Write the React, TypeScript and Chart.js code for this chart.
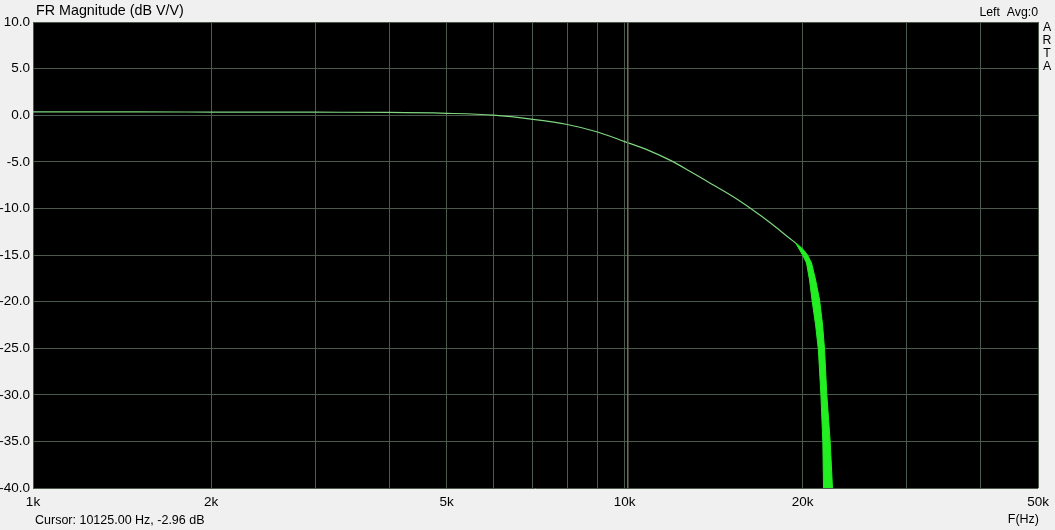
import React, { useEffect, useRef } from 'react';
import { Chart, registerables } from 'chart.js';

Chart.register(...registerables);

// ---- data ----
const FREQ_HZ = [1000, 1500, 2000, 3000, 4000, 5000, 6000, 7000, 8000, 9000, 10000, 11000, 12000, 13000, 14000, 15000, 16000, 17000, 18000, 19000, 19455];
const MAG_DB = [0.35, 0.35, 0.34, 0.32, 0.3, 0.2, 0.0, -0.45, -1.0, -1.8, -2.83, -3.8, -4.9, -6.15, -7.35, -8.45, -9.6, -10.8, -12.0, -13.2, -13.71];

// envelope of the rapidly varying part above ~19.5 kHz (drawn as a filled band)
const BAND_UPPER_HZ = [19455, 19760, 20070, 20380, 20700, 21030, 21360, 21610, 21780, 21970, 22260, 22460, 22550];
const BAND_UPPER_DB = [-13.71, -14.03, -14.46, -15.0, -15.86, -17.68, -19.83, -22.51, -25.19, -30.02, -35.03, -40.0, -41.3];
const BAND_LOWER_HZ = [19455, 19680, 19990, 20300, 20540, 20740, 21030, 21260, 21470, 21630, 21690, 21720];
const BAND_LOWER_DB = [-13.71, -14.25, -15.0, -15.86, -17.68, -19.83, -22.51, -25.19, -30.02, -35.03, -40.0, -41.3];

const CURSOR_HZ = 10125;
const CURSOR_DB = -2.96;

const X_GRID_HZ = [1000, 2000, 3000, 4000, 5000, 6000, 7000, 8000, 9000, 10000, 20000, 30000, 40000, 50000];
const X_LABEL_HZ = [1000, 2000, 5000, 10000, 20000, 50000];
const X_LABEL_TEXT = ['1k', '2k', '5k', '10k', '20k', '50k'];

const Y_MIN = -40;
const Y_MAX = 10;
const Y_STEP = 5;

const TITLE = 'FR Magnitude (dB V/V)';
const CHANNEL = 'Left  Avg:0';
const BRAND = ['A', 'R', 'T', 'A'];
const X_UNIT = 'F(Hz)';

const W = 1055;
const H = 530;
const FONT = '"Liberation Sans", Arial, sans-serif';

export default function App() {
  const ref = useRef<HTMLCanvasElement>(null);

  useEffect(() => {
    document.body.style.margin = '0';
    const canvas = ref.current;
    if (!canvas) return;

    const bgPlugin = {
      id: 'bgPlugin',
      beforeDraw(chart: any) {
        const c = chart.ctx;
        const a = chart.chartArea;
        c.save();
        c.fillStyle = '#f0f0f0';
        c.fillRect(0, 0, chart.width, chart.height);
        c.fillStyle = '#000000';
        c.fillRect(a.left, a.top, a.right - a.left, a.bottom - a.top);
        c.restore();
      },
    };

    const textPlugin = {
      id: 'textPlugin',
      afterDraw(chart: any) {
        const c = chart.ctx;
        c.save();
        c.fillStyle = '#000';
        c.font = `14.3px ${FONT}`;
        c.textAlign = 'left';
        c.textBaseline = 'alphabetic';
        c.fillText(TITLE, 36, 15);

        c.font = `12.3px ${FONT}`;
        c.textAlign = 'right';
        c.fillText(CHANNEL, 1038, 16);

        c.textAlign = 'center';
        c.textBaseline = 'middle';
        BRAND.forEach((ch, i) => c.fillText(ch, 1047, 28 + i * 13));

        c.textAlign = 'left';
        c.font = `12.5px ${FONT}`;
        c.fillText(`Cursor: ${CURSOR_HZ.toFixed(2)} Hz, ${CURSOR_DB.toFixed(2)} dB`, 35, 521);

        c.textAlign = 'right';
        c.fillText(X_UNIT, 1039, 520);
        c.restore();
      },
    };

    const mainData = FREQ_HZ.map((f, i) => ({ x: f, y: MAG_DB[i] }));
    const bandData = [
      ...BAND_UPPER_HZ.map((f, i) => ({ x: f, y: BAND_UPPER_DB[i] })),
      ...BAND_LOWER_HZ.map((f, i) => ({ x: f, y: BAND_LOWER_DB[i] })).reverse(),
    ];
    const cursorData = [
      { x: CURSOR_HZ, y: Y_MAX },
      { x: CURSOR_HZ, y: Y_MIN },
    ];

    const gridColor = '#4b5a4d';

    const chart = new Chart(canvas, {
      type: 'line',
      data: {
        datasets: [
          {
            data: cursorData,
            borderColor: '#6f6f55',
            borderWidth: 1.5,
            pointRadius: 0,
            fill: false,
          },
          {
            data: bandData,
            borderColor: '#22ee22',
            backgroundColor: '#22ee22',
            borderWidth: 1,
            pointRadius: 0,
            fill: 'shape',
            tension: 0,
          },
          {
            data: mainData,
            borderColor: '#7fd67f',
            borderWidth: 1.2,
            pointRadius: 0,
            fill: false,
            cubicInterpolationMode: 'monotone',
          },
        ],
      },
      options: {
        responsive: false,
        animation: false,
        devicePixelRatio: 1,
        layout: { padding: { top: 22, right: 15, left: 0, bottom: 0 } },
        plugins: {
          legend: { display: false },
          tooltip: { enabled: false },
        },
        scales: {
          x: {
            type: 'logarithmic',
            min: X_GRID_HZ[0],
            max: X_GRID_HZ[X_GRID_HZ.length - 1],
            afterBuildTicks: (s: any) => {
              s.ticks = X_GRID_HZ.map((v) => ({ value: v }));
            },
            afterFit: (s: any) => {
              s.height = 42;
            },
            ticks: {
              autoSkip: false,
              maxRotation: 0,
              padding: 6,
              color: '#000',
              font: { family: FONT, size: 13.5 },
              callback: (v: any) => {
                const i = X_LABEL_HZ.indexOf(Number(v));
                return i >= 0 ? X_LABEL_TEXT[i] : '';
              },
            },
            grid: { color: gridColor, drawTicks: false, lineWidth: 1 },
            border: { display: false },
          },
          y: {
            min: Y_MIN,
            max: Y_MAX,
            afterFit: (s: any) => {
              s.width = 33;
            },
            ticks: {
              stepSize: Y_STEP,
              padding: 3,
              color: '#000',
              font: { family: FONT, size: 13.5 },
              callback: (v: any) => Number(v).toFixed(1),
            },
            grid: { color: gridColor, drawTicks: false, lineWidth: 1 },
            border: { display: false },
          },
        },
      } as any,
      plugins: [bgPlugin, textPlugin],
    });

    return () => chart.destroy();
  }, []);

  return (
    <div style={{ width: W, height: H }}>
      <canvas ref={ref} width={W} height={H} style={{ display: 'block', width: W, height: H }} />
    </div>
  );
}
